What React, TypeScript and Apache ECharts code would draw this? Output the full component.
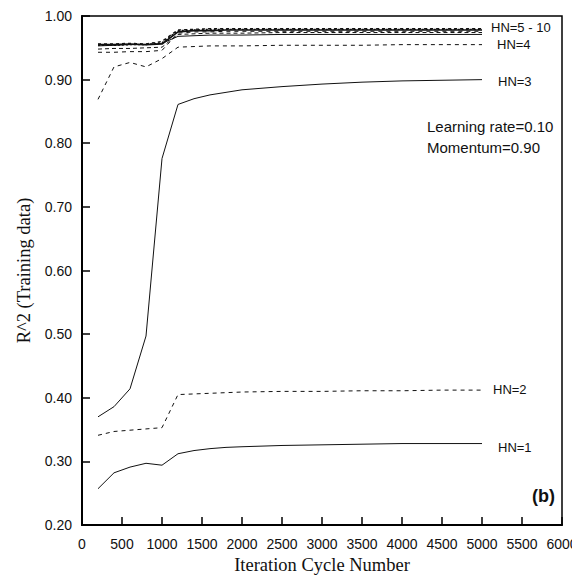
import React, { useEffect, useRef } from "react";
import * as echarts from "echarts";

const iterations = [200, 400, 600, 800, 1000, 1200, 1400, 1600, 1800, 2000, 2500, 3000, 3500, 4000, 4500, 5000];

const hn1 = [0.257, 0.282, 0.291, 0.297, 0.294, 0.312, 0.317, 0.32, 0.322, 0.323, 0.325, 0.326, 0.327, 0.328, 0.328, 0.328];
const hn2 = [0.341, 0.347, 0.349, 0.351, 0.353, 0.405, 0.406, 0.407, 0.408, 0.409, 0.41, 0.41, 0.411, 0.411, 0.412, 0.412];
const hn3 = [0.37, 0.386, 0.414, 0.497, 0.776, 0.861, 0.87, 0.876, 0.88, 0.884, 0.889, 0.893, 0.896, 0.898, 0.899, 0.9];
const hn4 = [0.869, 0.92, 0.927, 0.92, 0.933, 0.951, 0.952, 0.953, 0.953, 0.953, 0.954, 0.954, 0.954, 0.955, 0.955, 0.955];
const hn5 = [0.953, 0.954, 0.955, 0.955, 0.957, 0.968, 0.969, 0.97, 0.97, 0.97, 0.971, 0.971, 0.971, 0.971, 0.971, 0.971];
const hn6 = [0.948, 0.949, 0.949, 0.95, 0.951, 0.971, 0.972, 0.973, 0.973, 0.973, 0.974, 0.974, 0.974, 0.974, 0.974, 0.974];
const hn7 = [0.955, 0.955, 0.956, 0.955, 0.956, 0.975, 0.977, 0.977, 0.978, 0.978, 0.978, 0.978, 0.978, 0.978, 0.978, 0.978];
const hn8 = [0.954, 0.954, 0.955, 0.955, 0.958, 0.977, 0.978, 0.979, 0.979, 0.979, 0.979, 0.979, 0.979, 0.979, 0.979, 0.979];
const hn9 = [0.943, 0.943, 0.944, 0.944, 0.946, 0.973, 0.975, 0.975, 0.976, 0.976, 0.976, 0.976, 0.976, 0.976, 0.976, 0.976];
const hn10 = [0.956, 0.956, 0.957, 0.956, 0.96, 0.978, 0.979, 0.98, 0.98, 0.98, 0.98, 0.98, 0.98, 0.98, 0.98, 0.98];

const yTicks = [0.2, 0.3, 0.4, 0.5, 0.6, 0.7, 0.8, 0.9, 1.0];

const seriesDefs: { name: string; data: number[]; dash: "solid" | number[]; width: number }[] = [
  { name: "HN=1", data: hn1, dash: "solid", width: 1 },
  { name: "HN=2", data: hn2, dash: [4, 4], width: 1 },
  { name: "HN=3", data: hn3, dash: "solid", width: 1 },
  { name: "HN=4", data: hn4, dash: [4, 4], width: 1 },
  { name: "HN=5", data: hn5, dash: "solid", width: 1 },
  { name: "HN=6", data: hn6, dash: [4, 3], width: 1 },
  { name: "HN=7", data: hn7, dash: "solid", width: 1.6 },
  { name: "HN=8", data: hn8, dash: [2, 2], width: 1.4 },
  { name: "HN=9", data: hn9, dash: [4, 4], width: 1 },
  { name: "HN=10", data: hn10, dash: [3, 3], width: 1.4 },
];

const labelFont = "'Liberation Sans', Arial, sans-serif";
const serifFont = "'Liberation Serif', 'Times New Roman', serif";

export default function App() {
  const ref = useRef<HTMLDivElement>(null);
  useEffect(() => {
    if (!ref.current) return;
    const chart = echarts.init(ref.current, null, { renderer: "svg" });
    const txt = (x: number, y: number, text: string, extra: any = {}) => ({
      type: "text",
      x,
      y,
      style: { text, fill: "#111", font: `13px ${labelFont}`, textVerticalAlign: "middle", ...extra },
    });
    chart.setOption({
      animation: false,
      backgroundColor: "#fff",
      grid: {
        left: 82,
        right: 18,
        top: 16,
        bottom: 50,
        outerBoundsMode: "none",
        containLabel: false,
        show: true,
        borderColor: "#000",
        borderWidth: 1.5,
      },
      xAxis: {
        type: "value",
        min: 0,
        max: 6000,
        interval: 500,
        name: "Iteration Cycle Number",
        nameLocation: "middle",
        nameGap: 28,
        nameTextStyle: { fontFamily: serifFont, fontSize: 18.5, color: "#111" },
        axisLine: { show: true, lineStyle: { color: "#000", width: 2 } },
        axisTick: { show: true, inside: true, length: 8, lineStyle: { color: "#000", width: 1.5 } },
        axisLabel: {
          fontFamily: labelFont,
          fontSize: 14,
          color: "#111",
          margin: 12,
          formatter: (v: number) => String(v),
        },
        splitLine: { show: false },
      },
      yAxis: {
        type: "value",
        min: yTicks[0],
        max: yTicks[yTicks.length - 1],
        interval: 0.1,
        name: "R^2 (Training data)",
        nameLocation: "middle",
        nameGap: 49,
        nameTextStyle: { fontFamily: serifFont, fontSize: 18.5, color: "#111" },
        axisLine: { show: true, lineStyle: { color: "#000", width: 2 } },
        axisTick: { show: true, inside: true, length: 8, lineStyle: { color: "#000", width: 1.5 } },
        axisLabel: {
          fontFamily: labelFont,
          fontSize: 14,
          color: "#111",
          margin: 10,
          formatter: (v: number) => v.toFixed(2),
        },
        splitLine: { show: false },
      },
      series: seriesDefs.map((s) => ({
        name: s.name,
        type: "line",
        data: iterations.map((x, i) => [x, s.data[i]]),
        showSymbol: false,
        symbol: "none",
        smooth: false,
        lineStyle: { color: "#111", width: s.width, type: s.dash },
        z: 3,
      })),
      graphic: [
        txt(491, 27, "HN=5 - 10"),
        txt(497, 44, "HN=4"),
        txt(498, 81, "HN=3"),
        txt(493, 389, "HN=2"),
        txt(498, 447, "HN=1"),
        txt(427, 126, "Learning rate=0.10", { font: `15px ${labelFont}` }),
        txt(427, 147, "Momentum=0.90", { font: `15px ${labelFont}` }),
        txt(532, 496, "(b)", { font: `bold 18px ${labelFont}` }),
      ],
    });
    return () => chart.dispose();
  }, []);
  return <div ref={ref} style={{ width: 580, height: 575, marginLeft: -8, marginTop: -8 }} />;
}
